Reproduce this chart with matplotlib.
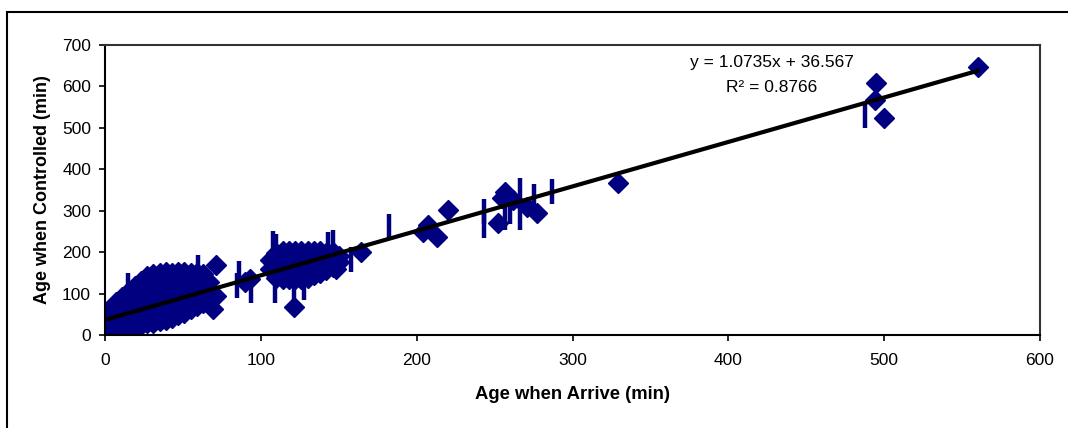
import matplotlib.pyplot as plt
from matplotlib.patches import Rectangle

plt.rcParams['font.family'] = ['Liberation Sans', 'DejaVu Sans']

# diamond points (arrival age, controlled age)
# dense group near the origin
arrive_a = [0, 3, 3, 3, 3,
            7, 7, 7, 7,
            11, 11, 11, 11, 11,
            15, 15, 15, 15, 15,
            19, 19, 19, 19, 19, 19,
            23, 23, 23, 23, 23, 23,
            27, 27, 27, 27, 27, 27, 27,
            31, 31, 31, 31, 31, 31, 31,
            35, 35, 35, 35, 35, 35, 35,
            39, 39, 39, 39, 39, 39, 39,
            43, 43, 43, 43, 43, 43,
            47, 47, 47, 47, 47, 47,
            51, 51, 51, 51, 51, 51,
            55, 55, 55, 55, 55,
            59, 59, 59, 59, 59,
            63, 63, 63, 63, 63,
            67, 67, 67, 71, 69, 71]
controlled_a = [2, 0, 20, 42, 63,
                20, 40, 60, 80,
                22, 42, 62, 82, 92,
                20, 40, 60, 80, 104,
                22, 42, 62, 82, 102, 118,
                25, 45, 65, 85, 105, 130,
                28, 48, 68, 88, 108, 128, 142,
                30, 50, 70, 90, 110, 130, 148,
                33, 53, 73, 93, 113, 133, 150,
                36, 56, 76, 96, 116, 136, 152,
                42, 62, 82, 102, 122, 150,
                48, 68, 88, 108, 128, 152,
                54, 74, 94, 114, 134, 152,
                62, 82, 102, 122, 150,
                70, 90, 110, 130, 150,
                78, 98, 118, 138, 148,
                88, 108, 128, 168, 62, 95]

# second group around 100-150 min
arrive_b = [93, 90,
            106, 106,
            110, 110, 110, 110,
            114, 114, 114, 114, 114,
            118, 118, 118, 118, 118,
            122, 122, 122, 122, 122,
            126, 126, 126, 126, 126,
            130, 130, 130, 130, 130,
            134, 134, 134, 134,
            138, 138, 138, 138,
            142, 142, 142,
            146, 146, 146,
            150, 150, 148, 121, 164]
controlled_b = [135, 128,
                160, 180,
                138, 158, 178, 198,
                135, 155, 175, 195, 203,
                135, 155, 175, 195, 203,
                135, 155, 175, 195, 203,
                135, 155, 175, 195, 203,
                138, 158, 178, 198, 203,
                145, 165, 185, 203,
                150, 170, 190, 203,
                158, 178, 198,
                165, 185, 200,
                175, 190, 160, 68, 200]

# scattered points further out
arrive_c = [204, 207, 213, 220,
            252, 257, 262, 271, 277, 255, 329,
            494, 495, 500, 560]
controlled_c = [249, 266, 237, 302,
                270, 345, 326, 310, 294, 330, 367,
                568, 608, 524, 647]

# short vertical tick-like marks
bar_arrive = [15, 60, 69, 12, 20,
              85, 86, 94,
              108, 110, 143, 146, 109, 121, 128, 158, 182,
              243, 243, 257, 266, 266, 275, 287, 260, 488]
bar_controlled = [120, 164, 92, 20, 30,
                  120, 150, 108,
                  222, 215, 220, 225, 108, 115, 115, 183, 262,
                  300, 265, 286, 350, 285, 335, 348, 300, 530]

slope = 1.0735
intercept = 36.567

arrive = arrive_a + arrive_b + arrive_c
controlled = controlled_a + controlled_b + controlled_c

fig = plt.figure(figsize=(10.68, 4.28), dpi=100)
ax = fig.add_axes([0.0983, 0.2173, 0.8755, 0.6776])

ax.plot(bar_arrive, bar_controlled, linestyle='none', marker='|',
        markersize=18, markeredgewidth=3.2, color='#000080')
ax.plot(arrive, controlled, linestyle='none', marker='D',
        markersize=10.5, color='#000080')

line_x = [0, max(arrive)]
line_y = [slope * v + intercept for v in line_x]
ax.plot(line_x, line_y, color='black', linewidth=3)

ax.text(0.713, 0.94, 'y = %.4fx + %.3f' % (slope, intercept),
        transform=ax.transAxes, ha='center', va='center', fontsize=12.5)
ax.text(0.713, 0.855, 'R\u00b2 = 0.8766', transform=ax.transAxes,
        ha='center', va='center', fontsize=12.5)

ax.set_xlim(0, 600)
ax.set_ylim(0, 700)
ax.set_xticks(range(0, 601, 100))
ax.set_yticks(range(0, 701, 100))
ax.tick_params(direction='out', length=4, width=1.2, labelsize=12.5)
ax.tick_params(axis='x', pad=9)
ax.tick_params(axis='y', pad=6)
for s in ax.spines.values():
    s.set_linewidth(1.5)
    s.set_color('black')
ax.spines['top'].set_color('#333333')
ax.spines['right'].set_color('#333333')

ax.set_xlabel('Age when Arrive (min)', fontsize=13.3, fontweight='bold', labelpad=13)
ax.set_ylabel('Age when Controlled (min)', fontsize=13, fontweight='bold', labelpad=8)

# outer chart border
fig.patches.append(Rectangle((7 / 1068, -0.1), 1.2, (428 - 12) / 428 + 0.1,
                             transform=fig.transFigure, fill=False,
                             edgecolor='black', linewidth=1.5))

fig.savefig('out.png', dpi=100)
